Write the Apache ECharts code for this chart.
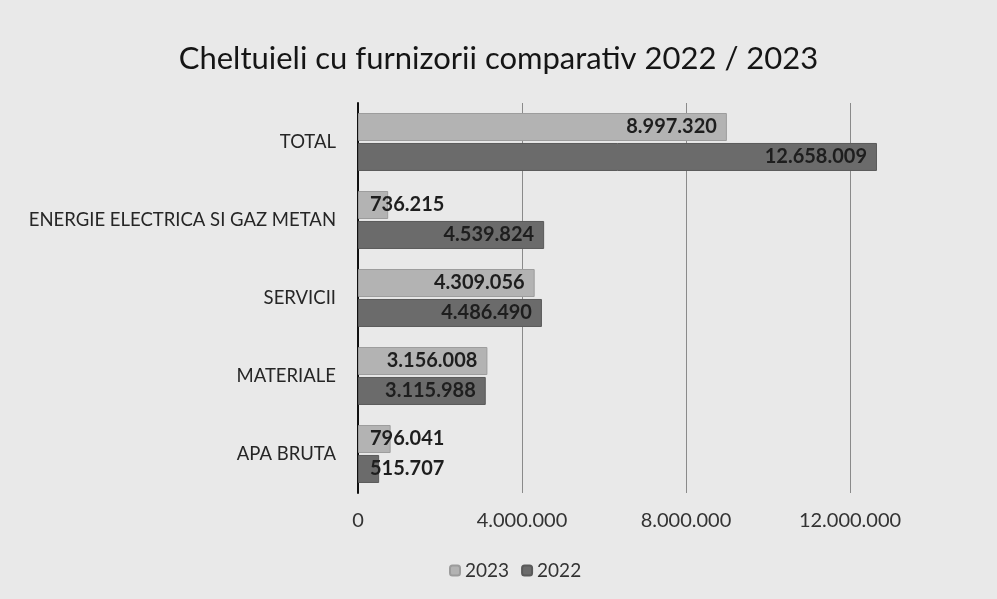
<!DOCTYPE html>
<html>
<head>
<meta charset="utf-8">
<script src="https://cdn.jsdelivr.net/npm/echarts@6/dist/echarts.min.js"></script>
<style>
  html, body { margin: 0; padding: 0; background: #e9e9e9; }
  #chart { width: 997px; height: 599px; }
</style>
</head>
<body>
<div id="chart"></div>
<script>
// bottom-to-top order, as ECharts draws a category y axis
const categories = ['APA BRUTA', 'MATERIALE', 'SERVICII', 'ENERGIE ELECTRICA SI GAZ METAN', 'TOTAL'];
const values2023 = [796041, 3156008, 4309056, 736215, 8997320];
const values2022 = [515707, 3115988, 4486490, 4539824, 12658009];
const xTicks = [0, 4000000, 8000000, 12000000];

const fmt = v => String(v).replace(/\B(?=(\d{3})+(?!\d))/g, '.');

// short bars: Excel pushes the label out past the bar start
function withLabels(vals) {
  return vals.map(v => v < 1000000
    ? { value: v, label: { position: 'insideLeft', distance: 12 } }
    : v);
}

const valueLabel = {
  show: true,
  position: 'insideRight',
  distance: 10,
  fontSize: 20,
  fontWeight: 'bold',
  color: '#1e1e1e',
  formatter: p => fmt(p.value)
};

const chart = echarts.init(document.getElementById('chart'));
chart.setOption({
  backgroundColor: '#e9e9e9',
  textStyle: { fontFamily: 'Lato' },
  title: {
    text: 'Cheltuieli cu furnizorii comparativ 2022 / 2023',
    left: 'center',
    top: 38,
    textStyle: { fontFamily: 'Lato', fontSize: 31, fontWeight: 'normal', color: '#151515' }
  },
  legend: {
    bottom: 14,
    left: 444,
    itemWidth: 10,
    itemHeight: 10,
    itemGap: 12,
    textStyle: { fontSize: 19, color: '#333' },
    data: ['2023', '2022']
  },
  grid: { left: 358, top: 103, width: 574, height: 390 },
  xAxis: {
    type: 'value',
    min: 0,
    max: 14000000,
    interval: 4000000,
    axisLine: { show: false },
    axisTick: { show: false },
    splitLine: { showMaxLine: false, lineStyle: { color: '#8a8a8a', width: 1 } },
    axisLabel: {
      fontSize: 20,
      color: '#333',
      margin: 18,
      showMaxLabel: false,
      formatter: v => xTicks.includes(v) ? fmt(v) : ''
    }
  },
  yAxis: {
    type: 'category',
    data: categories,
    axisLine: { lineStyle: { color: '#111', width: 2 } },
    axisTick: { show: false },
    axisLabel: { fontSize: 18.5, color: '#262626', margin: 22 }
  },
  series: [
    {
      name: '2023',
      type: 'bar',
      data: withLabels(values2023),
      barWidth: 28,
      barGap: '7%',
      itemStyle: { color: '#b3b3b3', borderColor: '#9c9c9c', borderWidth: 1 },
      label: valueLabel
    },
    {
      name: '2022',
      type: 'bar',
      data: withLabels(values2022),
      barWidth: 28,
      barGap: '7%',
      itemStyle: { color: '#6b6b6b', borderColor: '#5a5a5a', borderWidth: 1 },
      label: valueLabel
    }
  ]
});
</script>
</body>
</html>
